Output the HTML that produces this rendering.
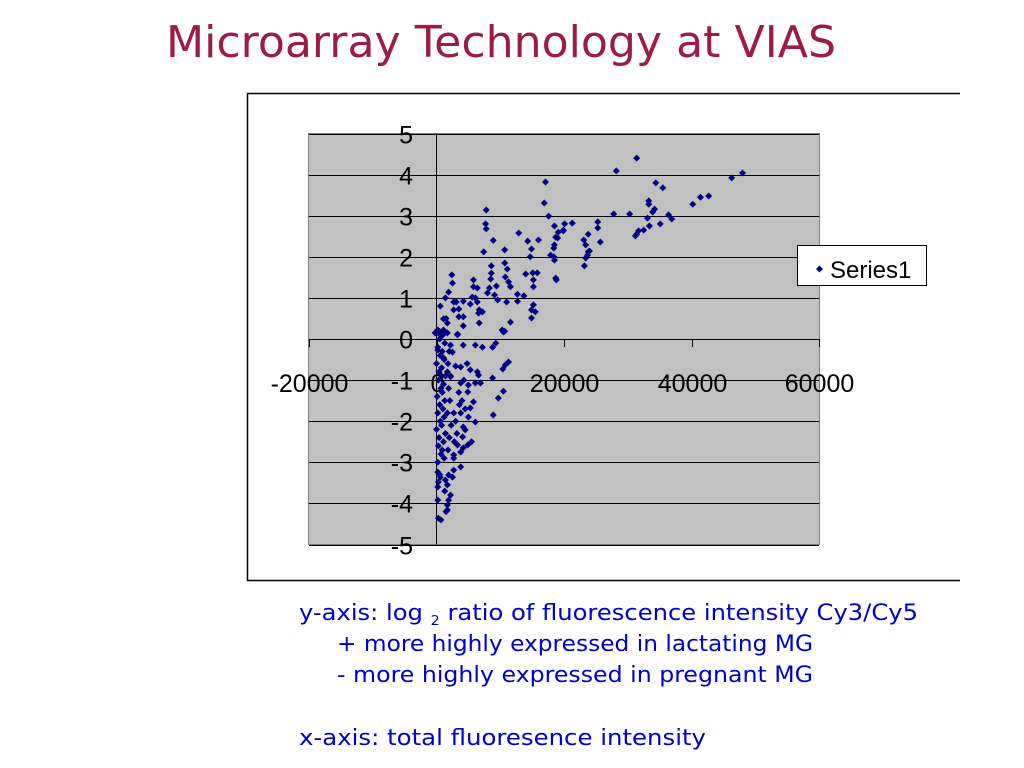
<!DOCTYPE html>
<html><head><meta charset="utf-8"><style>
html,body{margin:0;padding:0;background:#fff;width:1024px;height:768px;overflow:hidden}
svg{display:block}
</style></head><body>
<svg id="root" width="1024" height="768" xmlns="http://www.w3.org/2000/svg">
<text x="166" y="57" font-family="DejaVu Sans, sans-serif" font-size="44" fill="#9b1b4a" textLength="670" lengthAdjust="spacingAndGlyphs">Microarray Technology at VIAS</text>
<path d="M960 93.5H247.5V580.5H960" fill="none" stroke="#000" stroke-width="1.5"/>
<rect x="308.5" y="133.5" width="511" height="411" fill="#c0c0c0" stroke="#808080"/>
<g id="grid"></g>
<g id="axes"></g>
<g id="points"></g>
<g>
<rect x="797.5" y="245.5" width="129" height="40" fill="#fff" stroke="#000"/>
<path d="M816 269l3.5 -3.5 3.5 3.5 -3.5 3.5z" fill="#000080"/>
<text x="830" y="278" font-family="Liberation Sans, sans-serif" font-size="24" fill="#000">Series1</text>
</g>
<g font-family="DejaVu Sans, sans-serif" font-size="22" fill="#0000cc">
<text x="299" y="620" textLength="619" lengthAdjust="spacingAndGlyphs">y-axis: log <tspan font-size="13" dy="5">2</tspan><tspan dy="-5"> ratio of fluorescence intensity Cy3/Cy5</tspan></text>
<text x="337" y="651" textLength="476" lengthAdjust="spacingAndGlyphs">+ more highly expressed in lactating MG</text>
<text x="337" y="682" textLength="476" lengthAdjust="spacingAndGlyphs">- more highly expressed in pregnant MG</text>
<text x="299" y="745" textLength="407" lengthAdjust="spacingAndGlyphs">x-axis: total fluoresence intensity</text>
</g>
</svg>
<script>
const xTicks=[-20000,0,20000,40000,60000];
const yTicks=[5,4,3,2,1,0,-1,-2,-3,-4,-5];
const xK=[17.1,16.9,17.6,7.8,7.7,7.8,8.9,12.9,14.3,16.0,14.9,14.7,10.7,7.4,8.6,10.7,11.1,8.6,8.5,10.8,11.3,11.6,9.4,8.3,8.0,9.1,9.6,11.0,12.7,13.7,12.7,14.0,15.1,15.8,15.2,15.2,15.2,14.9,15.5,14.9,11.6,10.3,10.7,6.7,2.4,2.5,1.9,2.7,3.1,4.2,2.7,3.5,4.2,3.5,4.2,1.1,1.7,5.8,5.8,6.4,5.6,6.1,6.4,5.3,6.7,7.2,6.6,18.4,18.7,19.0,18.5,17.9,18.4,18.5,18.7,18.8,18.5,19.1,19.9,20.1,21.3,23.1,23.8,23.4,23.8,23.4,23.2,25.3,25.3,25.7,27.8,28.2,31.4,30.3,24.0,23.7,34.4,35.5,33.3,33.3,34.2,33.9,33.1,36.4,36.9,35.1,33.4,32.5,31.7,31.4,31.2,40.2,41.4,42.7,46.3,48.0,19.9,
-0.2,0.6,1.7,3.3,2.2,4.2,6.1,7.2,8.8,9.3,10.5,0.2,1.1,2.5,11.3,10.8,10.4,3.8,3.0,5.3,6.4,6.6,8.8,1.7,2.2,3.8,5.0,6.1,6.9,10.5,4.9,9.7,5.8,5.3,8.9,6.1,3.8,2.7,4.2,4.5,4.1,3.3,4.9,4.2,3.8,2.7,2.7,3.8,2.7,2.5,1.9,1.4,1.7,2.2,1.9,1.7,1.7,0.2,0.3,0.2,0.3,0.6,0.2,0.2,0.5,0.8,1.1,3.3,
0.1,0.5,0.2,0.6,0.0,0.4,0.3,0.7,0.1,0.5,0.2,0.6,0.0,0.4,0.3,0.7,0.2,
1.0,1.3,0.9,1.2,0.8,1.4,1.1,0.9,1.3,1.0,1.2,0.8,1.4,1.1,0.9,1.2,
2.0,1.8,2.2,1.9,2.1,1.7,2.3,2.0,1.8,
3.5,4.0,4.5,5.0,3.2,4.3,5.5,3.0,4.8,3.6,1.5,1.4,0.6,0.7,1.3,1.5,2.8,0.5,0.8];
const yVal=[3.82,3.31,2.99,3.14,2.8,2.68,2.4,2.58,2.38,2.41,2.19,2.0,2.17,2.12,1.78,1.85,1.7,1.6,1.46,1.51,1.39,1.27,1.29,1.24,1.12,1.07,0.95,0.9,1.09,1.05,0.92,1.58,1.61,1.61,1.44,1.27,0.83,0.71,0.66,0.51,0.41,0.22,0.19,0.39,1.56,1.36,1.14,0.9,0.9,0.92,0.71,0.73,0.54,0.54,0.32,0.49,0.39,1.44,1.27,1.24,1.02,1.0,0.9,0.85,0.71,0.66,0.63,2.21,2.48,2.46,2.29,2.04,2.0,1.92,1.48,1.44,2.75,2.6,2.65,2.8,2.82,2.41,2.55,2.29,2.12,1.97,1.78,2.85,2.7,2.36,3.04,4.09,4.4,3.04,2.14,2.04,3.8,3.68,3.36,3.28,3.16,3.09,2.94,3.02,2.92,2.8,2.75,2.65,2.63,2.55,2.51,3.28,3.45,3.48,3.92,4.04,2.63,
0.15,0.1,0.15,0.1,-0.15,-0.15,-0.15,-0.2,-0.2,-0.1,0.17,-0.27,-0.46,-0.32,-0.56,-0.63,-0.73,-0.68,-0.66,-0.75,-0.8,-0.88,-0.95,-0.8,-0.92,-1.07,-1.12,-1.07,-1.07,-1.27,-1.29,-1.44,-1.53,-1.68,-1.85,-2.02,-1.8,-1.8,-2.14,-2.21,-2.38,-2.58,-2.58,-2.65,-2.75,-2.82,-2.9,-3.11,-3.19,-3.36,-3.31,-3.43,-3.55,-3.8,-3.92,-4.04,-4.16,-3.92,-4.36,-3.6,-3.48,-3.36,-3.24,0.22,0.18,0.1,0.22,0.12,
0.2,0,-0.2,-0.4,-0.6,-0.8,-1.0,-1.2,-1.4,-1.6,-1.8,-2.0,-2.2,-2.4,-2.6,-2.8,-3.0,
0.1,-0.1,-0.3,-0.5,-0.7,-0.9,-1.1,-1.3,-1.5,-1.7,-1.9,-2.1,-2.3,-2.5,-2.7,-2.9,
-0.3,-0.6,-0.9,-1.2,-1.5,-1.8,-2.1,-2.4,-2.7,
-1.3,-1.5,-1.7,-1.9,-2.3,-1.0,-2.5,-2.0,-0.6,-1.6,0.5,1.0,0.8,-4.4,-3.7,-4.2,-2.5,-3.3,-0.9];
const NS='http://www.w3.org/2000/svg';
const xs=v=>436.5+v*(127.5/20000);
const ys=v=>339+(0-v)*41.1;
const grid=document.getElementById('grid'),axes=document.getElementById('axes'),pts=document.getElementById('points');
yTicks.forEach(t=>{
  const y=Math.round(ys(t))+0.5;
  const l=document.createElementNS(NS,'line');
  l.setAttribute('x1',309);l.setAttribute('x2',819);l.setAttribute('y1',y);l.setAttribute('y2',y);
  l.setAttribute('stroke','#000');
  
  
  grid.appendChild(l);
  const tk=document.createElementNS(NS,'line');
  tk.setAttribute('x1',xs(0)-8);tk.setAttribute('x2',xs(0));tk.setAttribute('y1',y);tk.setAttribute('y2',y);
  tk.setAttribute('stroke','#000');
  
  
  axes.appendChild(tk);
  const tx=document.createElementNS(NS,'text');
  tx.setAttribute('x',413);tx.setAttribute('y',y+9);tx.setAttribute('text-anchor','end');
  tx.setAttribute('font-family','Liberation Sans, sans-serif');tx.setAttribute('font-size','25');
  tx.textContent=t;
  
  
  axes.appendChild(tx);
});
const ya=document.createElementNS(NS,'line');
ya.setAttribute('x1',xs(0));ya.setAttribute('x2',xs(0));ya.setAttribute('y1',ys(5));ya.setAttribute('y2',ys(-5));
ya.setAttribute('stroke','#000');


axes.appendChild(ya);
const xa=document.createElementNS(NS,'line');
xa.setAttribute('x1',xs(-20000));xa.setAttribute('x2',xs(60000));xa.setAttribute('y1',ys(0)+0.5);xa.setAttribute('y2',ys(0)+0.5);
xa.setAttribute('stroke','#000');


axes.appendChild(xa);
xTicks.forEach(t=>{
  const x=Math.round(xs(t))+0.5;
  const tk=document.createElementNS(NS,'line');
  tk.setAttribute('x1',x);tk.setAttribute('x2',x);tk.setAttribute('y1',ys(0));tk.setAttribute('y2',ys(0)+8);
  tk.setAttribute('stroke','#000');
  
  
  axes.appendChild(tk);
  const tx=document.createElementNS(NS,'text');
  tx.setAttribute('x',x);tx.setAttribute('y',ys(0)+53);tx.setAttribute('text-anchor','middle');
  tx.setAttribute('font-family','Liberation Sans, sans-serif');tx.setAttribute('font-size','25');
  tx.textContent=t;
  
  
  axes.appendChild(tx);
});
for(let i=0;i<xK.length;i++){
  const x=xs(xK[i]*1000),y=ys(yVal[i]);
  const p=document.createElementNS(NS,'path');
  p.setAttribute('d',`M${x-3.5} ${y}L${x} ${y-3.5}L${x+3.5} ${y}L${x} ${y+3.5}Z`);
  p.setAttribute('fill','#000080');
  
  
  pts.appendChild(p);
}
</script>
</body></html>
